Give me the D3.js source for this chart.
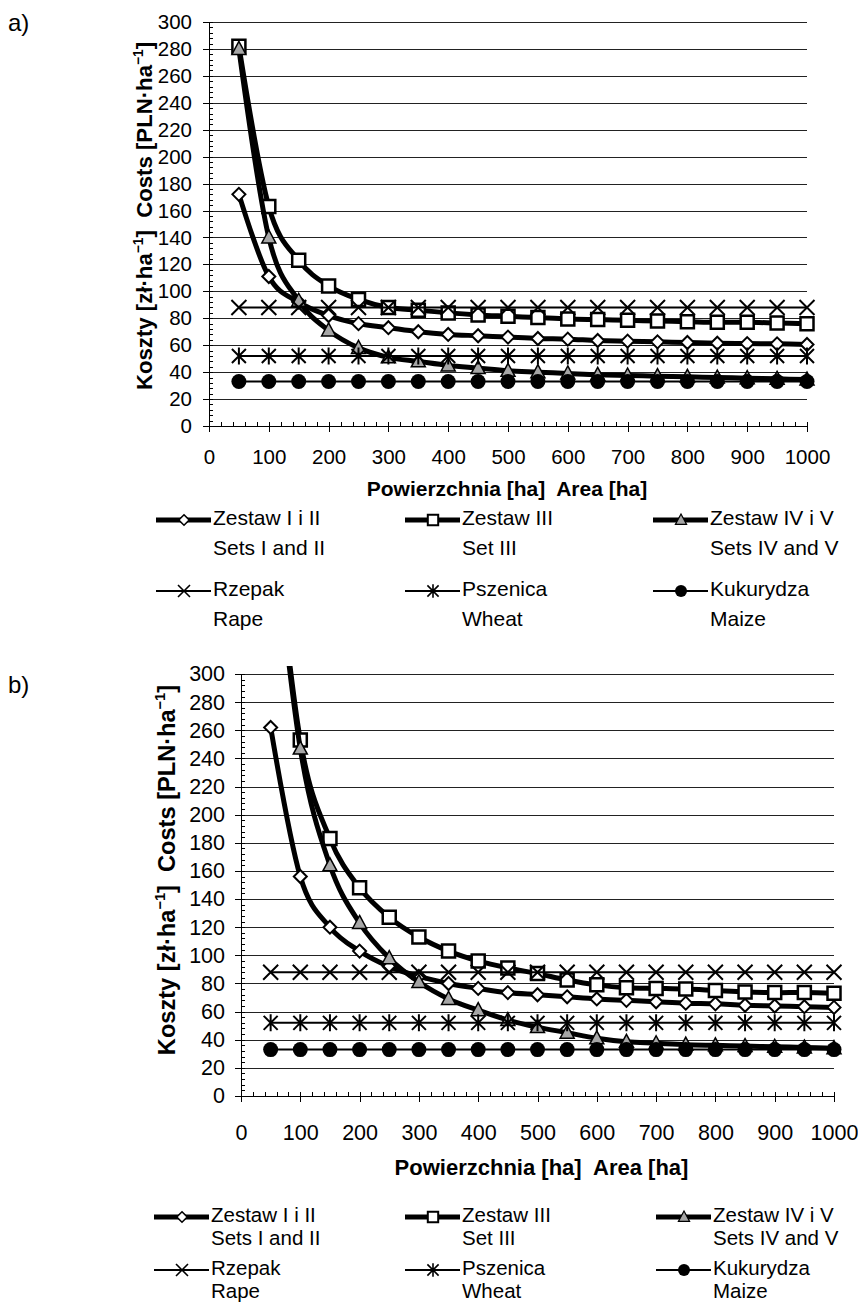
<!DOCTYPE html>
<html>
<head>
<meta charset="utf-8">
<title>Koszty / Costs</title>
<script src="https://d3js.org/d3.v7.min.js"></script>
<style>
  body { margin: 0; background: #fff; }
  svg { display: block; font-family: "Liberation Sans", Arial, sans-serif; }
  .grid line { stroke: #222; stroke-width: 1; shape-rendering: crispEdges; }
  .axis path, .axis line { stroke: #000; stroke-width: 1; shape-rendering: crispEdges; }
  .axis text { fill: #000; font-family: "Liberation Sans", Arial, sans-serif; }
</style>
</head>
<body>
<svg width="858" height="1303"></svg>
<script>

    // area [ha] at which every series is sampled
    var areas = [50, 100, 150, 200, 250, 300, 350, 400, 450, 500,
                 550, 600, 650, 700, 750, 800, 850, 900, 950, 1000];

    var xTicks = [0, 100, 200, 300, 400, 500, 600, 700, 800, 900, 1000];
    var yTicks = [0, 20, 40, 60, 80, 100, 120, 140, 160, 180, 200, 220, 240, 260, 280, 300];

    // legend texts (Polish / English)
    var seriesNamesPl = ["Zestaw I i II", "Zestaw III", "Zestaw IV i V", "Rzepak", "Pszenica", "Kukurydza"];
    var seriesNamesEn = ["Sets I and II", "Set III", "Sets IV and V", "Rape", "Wheat", "Maize"];

    // panel a) costs [PLN/ha]
    var aSetsI   = [172, 111, 92, 82, 76, 73, 70, 68, 67, 66, 65, 64.5, 63.5, 63, 62.5, 62, 61.5, 61.2, 61, 60.5];
    var aSetIII  = [282, 163, 123, 104, 94, 88, 86, 84, 82.5, 81.5, 80.5, 79.5, 79, 78.5, 78, 77.5, 77, 77, 76.5, 76];
    var aSetsIV  = [280, 140, 93, 71, 58, 51, 48, 45, 43, 41, 40, 39, 38, 37.5, 37, 36.5, 36, 35.5, 35, 34.5];
    var aRape    = [88, 88, 88, 88, 88, 88, 88, 88, 88, 88, 88, 88, 88, 88, 88, 88, 88, 88, 88, 88];
    var aWheat   = [52, 52, 52, 52, 52, 52, 52, 52, 52, 52, 52, 52, 52, 52, 52, 52, 52, 52, 52, 52];
    var aMaize   = [33, 33, 33, 33, 33, 33, 33, 33, 33, 33, 33, 33, 33, 33, 33, 33, 33, 33, 33, 33];

    // panel b) costs [PLN/ha]
    var bSetsI   = [262, 156, 120, 103, 92, 85, 80, 76.5, 73.5, 72, 70.5, 69, 68, 67, 66, 65.5, 64.5, 64, 63.5, 63];
    var bSetIII  = [430, 253, 183, 148, 127, 113, 103, 96, 91, 87, 82.5, 79, 77, 76.5, 76, 75, 74, 73.5, 73.5, 73];
    var bSetsIV  = [425, 247, 164, 123, 98, 81, 69, 61, 54, 49, 45, 41, 38.5, 37.5, 36.5, 36, 35.5, 35, 34.5, 34];
    var bRape    = [88, 88, 88, 88, 88, 88, 88, 88, 88, 88, 88, 88, 88, 88, 88, 88, 88, 88, 88, 88];
    var bWheat   = [52, 52, 52, 52, 52, 52, 52, 52, 52, 52, 52, 52, 52, 52, 52, 52, 52, 52, 52, 52];
    var bMaize   = [33, 33, 33, 33, 33, 33, 33, 33, 33, 33, 33, 33, 33, 33, 33, 33, 33, 33, 33, 33];

    // how each series looks: marker and line weight
    var markerTypes = ["diamond", "square", "triangle", "cross", "star", "dot"];
    var lineWidths  = [5, 5, 5, 2, 2, 2];

    var markerPaths = {
        diamond:  "M0,-6.5L6.5,0L0,6.5L-6.5,0Z",
        square:   "M-6.5,-6.5H6.5V6.5H-6.5Z",
        triangle: "M0,-7.5L7,5.5H-7Z",
        cross:    "M-7.5,-7.5L7.5,7.5M-7.5,7.5L7.5,-7.5",
        star:     "M-7,-7L7,7M-7,7L7,-7M0,-8.5V8.5",
        dot:      "M7.5,0A7.5,7.5 0 1,1 -7.5,0A7.5,7.5 0 1,1 7.5,0Z"
    };
    var markerStyle = {
        diamond:  {fill: "#fff", sw: 2},
        square:   {fill: "#fff", sw: 2.5},
        triangle: {fill: "#a6a6a6", sw: 1.5},
        cross:    {fill: "none", sw: 2},
        star:     {fill: "none", sw: 2},
        dot:      {fill: "#000", sw: 0}
    };

    var svg = d3.select("svg");
    svg.append("rect").attr("width", 858).attr("height", 1303).attr("fill", "#fff");

    function addMarker(sel, type, scale) {
        sel.append("path")
            .attr("d", markerPaths[type])
            .attr("transform", function(d) { return d.t + (scale ? " scale(" + scale + ")" : ""); })
            .attr("fill", markerStyle[type].fill)
            .attr("stroke", "#000")
            .attr("stroke-width", markerStyle[type].sw);
    }

    function drawPanel(p) {
        var g = svg.append("g");

        var x = d3.scaleLinear().domain([0, 1000]).range([p.x0, p.x1]);
        var y = d3.scaleLinear().domain([0, 300]).range([p.yBot, p.yTop]);

        // panel letter
        g.append("text").attr("x", 8).attr("y", p.letterY)
            .attr("font-size", 24).text(p.letter);

        // horizontal gridlines
        g.append("g").attr("class", "grid")
            .selectAll("line")
            .data(yTicks.filter(function(v) { return v > 0; }))
            .enter().append("line")
            .attr("x1", p.x0).attr("x2", p.x1)
            .attr("y1", function(d) { return Math.round(y(d)) + 0.5; })
            .attr("y2", function(d) { return Math.round(y(d)) + 0.5; });

        // minor ticks (inside) then major ticks with labels (outside)
        g.append("g").attr("class", "axis")
            .attr("transform", "translate(" + p.x0 + ",0)")
            .call(d3.axisLeft(y).tickValues(d3.range(0, 301, 4)).tickSize(-4).tickSizeOuter(0).tickFormat(""));
        g.append("g").attr("class", "axis")
            .attr("transform", "translate(0," + p.yBot + ")")
            .call(d3.axisBottom(x).tickValues(d3.range(0, 1001, 20)).tickSize(-4).tickSizeOuter(0).tickFormat(""));

        var ya = g.append("g").attr("class", "axis")
            .attr("transform", "translate(" + p.x0 + ",0)")
            .call(d3.axisLeft(y).tickValues(yTicks).tickSize(6).tickSizeOuter(0).tickPadding(p.yPad));
        ya.selectAll("text").attr("font-size", p.tickFont);

        var xa = g.append("g").attr("class", "axis")
            .attr("transform", "translate(0," + p.yBot + ")")
            .call(d3.axisBottom(x).tickValues(xTicks).tickSize(6).tickSizeOuter(0)
                .tickPadding(p.xPad).tickFormat(d3.format("d")));
        xa.selectAll("text").attr("font-size", p.tickFont);

        // series
        var clipId = "clip" + p.letter.charAt(0);
        g.append("clipPath").attr("id", clipId)
            .append("rect")
            .attr("x", p.x0 - 12).attr("y", p.yTop - 8)
            .attr("width", p.x1 - p.x0 + 30).attr("height", p.yBot - p.yTop + 20);

        var plot = g.append("g").attr("clip-path", "url(#" + clipId + ")");

        var line = d3.line()
            .curve(d3.curveCardinal.tension(0))
            .x(function(d) { return x(d.a); })
            .y(function(d) { return y(d.v); });

        p.series.forEach(function(values, i) {
            var pts = areas.map(function(a, k) {
                return {a: a, v: values[k], t: "translate(" + x(a) + "," + y(values[k]) + ")"};
            });
            var sg = plot.append("g");
            sg.append("path")
                .datum(pts)
                .attr("d", line)
                .attr("fill", "none")
                .attr("stroke", "#000")
                .attr("stroke-width", lineWidths[i])
                .attr("stroke-linejoin", "round");
            var m = sg.selectAll("g.m")
                .data(pts.filter(function(d) { return d.v <= 305; }))
                .enter().append("g").attr("class", "m");
            addMarker(m, markerTypes[i]);
        });

        // axis titles
        g.append("text")
            .attr("x", (p.x0 + p.x1) / 2 + p.xTitleShift).attr("y", p.xTitleY)
            .attr("text-anchor", "middle").attr("font-weight", "bold")
            .attr("font-size", p.xTitleFont)
            .style("white-space", "pre")
            .text("Powierzchnia [ha]  Area [ha]");

        var yt = g.append("text")
            .attr("transform", "translate(" + p.yTitleX + "," + p.yTitleY + ") rotate(-90)")
            .attr("text-anchor", "middle").attr("font-weight", "bold")
            .attr("font-size", p.yTitleFont)
            .style("white-space", "pre");
        var parts = [["Koszty [zł·ha", 0], ["−1", 1], ["]  Costs [PLN·ha", 0], ["−1", 1], ["]", 0]];
        parts.forEach(function(pt, k) {
            var ts = yt.append("tspan").text(pt[0]);
            if (pt[1]) {
                ts.attr("font-size", p.yTitleFont * 0.62).attr("dy", -p.yTitleFont * 0.42);
            } else if (k > 0) {
                ts.attr("dy", p.yTitleFont * 0.42);
            }
        });

        // legend: 3 columns x 2 rows, each entry two lines (one text, two tspans)
        seriesNamesPl.forEach(function(name, i) {
            var col = i % 3, row = Math.floor(i / 3);
            var tx = p.legendX[col];
            var by = p.legendY[row];
            var lg = g.append("g");
            lg.append("line")
                .attr("x1", tx - 57).attr("x2", tx - 2)
                .attr("y1", by - 5).attr("y2", by - 5)
                .attr("stroke", "#000").attr("stroke-width", lineWidths[i]);
            addMarker(lg.append("g").datum({t: "translate(" + (tx - 29) + "," + (by - 5) + ")"}), markerTypes[i], 0.8);
            var lt = lg.append("text").attr("x", tx).attr("y", by)
                .attr("font-size", p.legendFont);
            lt.append("tspan").attr("x", tx).text(name);
            lt.append("tspan").attr("x", tx).attr("dy", p.legendGap).text(seriesNamesEn[i]);
        });
    }

    drawPanel({
        letter: "a)", letterY: 31,
        x0: 209, x1: 807, yTop: 22, yBot: 426,
        tickFont: 20.5, yPad: 11, xPad: 17,
        xTitleFont: 21, yTitleFont: 22.2,
        xTitleY: 496, xTitleShift: -1, yTitleX: 152, yTitleY: 216,
        legendX: [213, 462, 710], legendY: [525, 596], legendGap: 30, legendFont: 21,
        series: [aSetsI, aSetIII, aSetsIV, aRape, aWheat, aMaize]
    });

    drawPanel({
        letter: "b)", letterY: 693,
        x0: 241, x1: 834, yTop: 674, yBot: 1096,
        tickFont: 21.5, yPad: 10, xPad: 23,
        xTitleFont: 22, yTitleFont: 23.6,
        xTitleY: 1175, xTitleShift: 4, yTitleX: 175, yTitleY: 870,
        legendX: [211, 462, 713], legendY: [1222, 1275], legendGap: 23, legendFont: 20.5,
        series: [bSetsI, bSetIII, bSetsIV, bRape, bWheat, bMaize]
    });

</script>
</body>
</html>
